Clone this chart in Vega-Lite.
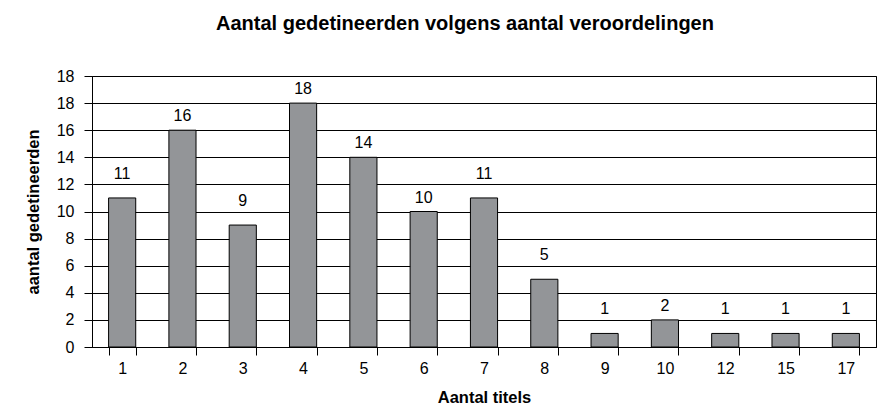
{
  "$schema": "https://vega.github.io/schema/vega-lite/v6.json",
  "width": 784,
  "height": 271,
  "autosize": {"type": "none"},
  "padding": {"left": 92, "top": 76, "right": 13, "bottom": 59},
  "background": "white",
  "title": {
    "text": "Aantal gedetineerden volgens aantal veroordelingen",
    "font": "Liberation Sans",
    "fontSize": 20,
    "fontWeight": "bold",
    "color": "black",
    "anchor": "middle",
    "dx": -19,
    "offset": 34
  },
  "data": {
    "values": [
      {"titels": "1", "aantal": 11},
      {"titels": "2", "aantal": 16},
      {"titels": "3", "aantal": 9},
      {"titels": "4", "aantal": 18},
      {"titels": "5", "aantal": 14},
      {"titels": "6", "aantal": 10},
      {"titels": "7", "aantal": 11},
      {"titels": "8", "aantal": 5},
      {"titels": "9", "aantal": 1},
      {"titels": "10", "aantal": 2},
      {"titels": "12", "aantal": 1},
      {"titels": "15", "aantal": 1},
      {"titels": "17", "aantal": 1}
    ]
  },
  "encoding": {
    "x": {
      "field": "titels",
      "type": "ordinal",
      "sort": null,
      "scale": {"paddingInner": 0.55, "paddingOuter": 0.275},
      "axis": {
        "title": "Aantal titels",
        "titleFont": "Liberation Sans",
        "titleFontSize": 16.5,
        "titleFontWeight": "bold",
        "titleColor": "black",
        "titlePadding": 13,
        "labelFont": "Liberation Sans",
        "labelFontSize": 16,
        "labelColor": "black",
        "labelAngle": 0,
        "labelPadding": 5,
        "tickBand": "extent",
        "tickSize": 8,
        "tickColor": "black",
        "domainColor": "black",
        "grid": false
      }
    },
    "y": {
      "field": "aantal",
      "type": "quantitative",
      "scale": {"domain": [0, 20], "nice": false},
      "axis": {
        "title": "aantal gedetineerden",
        "titleFont": "Liberation Sans",
        "titleFontSize": 16.5,
        "titleFontWeight": "bold",
        "titleColor": "black",
        "titlePadding": 15,
        "labelFont": "Liberation Sans",
        "labelFontSize": 16,
        "labelColor": "black",
        "labelPadding": 10,
        "values": [0, 2, 4, 6, 8, 10, 12, 14, 16, 18, 20],
        "labelExpr": "datum.value == 20 ? '18' : datum.label",
        "tickSize": 8,
        "tickColor": "black",
        "domainColor": "black",
        "grid": true,
        "gridColor": "black",
        "gridOpacity": 1,
        "gridWidth": 1
      }
    }
  },
  "layer": [
    {
      "mark": {"type": "bar", "color": "#939598", "stroke": "black", "strokeWidth": 1}
    },
    {
      "transform": [{"filter": "datum.aantal % 2 == 1"}],
      "mark": {
        "type": "text",
        "dy": -24,
        "baseline": "middle",
        "font": "Liberation Sans",
        "fontSize": 16,
        "color": "black"
      },
      "encoding": {"text": {"field": "aantal", "type": "quantitative"}}
    },
    {
      "transform": [{"filter": "datum.aantal % 2 == 0"}],
      "mark": {
        "type": "text",
        "dy": -14,
        "baseline": "middle",
        "font": "Liberation Sans",
        "fontSize": 16,
        "color": "black"
      },
      "encoding": {"text": {"field": "aantal", "type": "quantitative"}}
    }
  ],
  "config": {
    "view": {"stroke": "black", "strokeWidth": 1}
  }
}
